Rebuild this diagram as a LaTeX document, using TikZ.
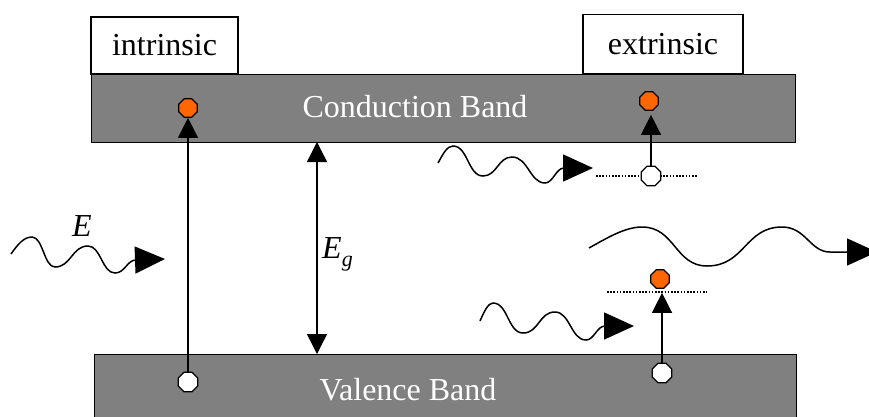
\documentclass[tikz,border=0pt]{standalone}
\usepackage{fontspec}
\setmainfont{Liberation Serif}
\usetikzlibrary{arrows.meta,shapes.geometric}
\definecolor{bandgray}{HTML}{808080}
\definecolor{eorange}{HTML}{FF6600}
\tikzset{
  band/.style={draw=black, line width=1.3pt, fill=bandgray, inner sep=0pt, anchor=north west},
  tagbox/.style={draw=black, line width=1.3pt, fill=white, inner sep=0pt, font=\fontsize{32}{36}\selectfont},
  bandtext/.style={text=white, font=\fontsize{32}{36}\selectfont, inner sep=0pt},
  electron/.style={regular polygon, regular polygon sides=8, minimum size=20pt, inner sep=0pt, draw=black, line width=1.2pt, fill=eorange},
  hole/.style={regular polygon, regular polygon sides=8, minimum size=21pt, inner sep=0pt, draw=black, line width=1.2pt, fill=white},
  jump/.style={line width=1.4pt, -{Triangle[length=20pt,width=20pt]}},
  photon/.style={line width=1.5pt, -{Triangle[length=30pt,width=27pt]}},
  level/.style={line width=1.1pt, dash pattern=on 1.6pt off 1.6pt},
  lbl/.style={font=\fontsize{32}{36}\selectfont\itshape, inner sep=0pt}
}
\begin{document}
\begin{tikzpicture}[x=1pt,y=-1pt]
\useasboundingbox (0,0) rectangle (869,416);
% bands
\node[band, minimum width=704pt, minimum height=68pt] (cb) at (91,74) {};
\node[band, minimum width=702pt, minimum height=70pt] (vb) at (94,354) {};
\node[bandtext] (cbt) at (415,107) {Conduction Band};
\node[bandtext] (vbt) at (408,390) {Valence Band};
% tag boxes
\node[tagbox, minimum width=147pt, minimum height=57pt] (intr) at (164.5,45.5) {intrinsic};
\node[tagbox, minimum width=160pt, minimum height=59pt] (extr) at (663,44) {extrinsic};
% band gap arrow
\coordinate (egt) at (317,142);
\coordinate (egb) at (317,354);
\draw[line width=1.4pt, {Triangle[length=20pt,width=20pt]}-{Triangle[length=20pt,width=20pt]}] (egt) -- (egb);
\node[lbl, anchor=base west] (eg) at (322,258) {E\raisebox{-0.28em}{\fontsize{22}{25}\selectfont g}};
% intrinsic transition
\node[electron] (e1) at (188,108) {};
\node[hole] (h1) at (188,382) {};
\draw[jump] (h1) -- (e1);
% extrinsic: donor level
\coordinate (d1) at (596,176);
\coordinate (d2) at (697,176);
\draw[level] (d1) -- (d2);
\node[hole] (h2) at (651,176) {};
\node[electron] (e2) at (649,101) {};
\draw[jump, shorten >=4pt] (h2) -- (h2 |- e2.south);
% extrinsic: acceptor level
\coordinate (a1) at (607,292);
\coordinate (a2) at (707,292);
\draw[level] (a1) -- (a2);
\node[electron] (e3) at (660,279) {};
\node[hole] (h3) at (662,373) {};
\draw[jump, shorten >=4pt] (h3) -- (h3 |- e3.south);
% photons
\coordinate (w1) at (11,254);
\draw[photon] (w1) .. controls (18,244) and (24,237) .. (32,237)
  .. controls (43,237) and (44,267) .. (55,267)
  .. controls (71,267) and (72,246) .. (88,246)
  .. controls (101,246) and (102,273) .. (115,273)
  .. controls (125,273) and (127,260) .. (136,260)
  -- (165,259);
\node[lbl] (E) at (82,226) {E};
\coordinate (w2) at (438,163);
\draw[photon] (w2) .. controls (443,154) and (447,146) .. (453,146)
  .. controls (468,146) and (468,176) .. (483,176)
  .. controls (497,176) and (498,157) .. (512,157)
  .. controls (528,157) and (530,183) .. (545,183)
  .. controls (553,183) and (556,168) .. (564,168)
  -- (593,168);
\coordinate (w3) at (480,321);
\draw[photon] (w3) .. controls (484,312) and (488,303) .. (493,303)
  .. controls (508,303) and (508,333) .. (523,333)
  .. controls (539,333) and (539,312) .. (555,312)
  .. controls (570,312) and (571,340) .. (586,340)
  .. controls (594,340) and (597,326) .. (605,326)
  -- (634,326);
\coordinate (w4) at (589,248);
\draw[photon] (w4) .. controls (607,238) and (625,227) .. (642,227)
  .. controls (675,227) and (675,266) .. (707,266)
  .. controls (745,266) and (745,227) .. (782,227)
  .. controls (806,227) and (810,252) .. (830,252)
  -- (877,252);
\end{tikzpicture}
\end{document}
